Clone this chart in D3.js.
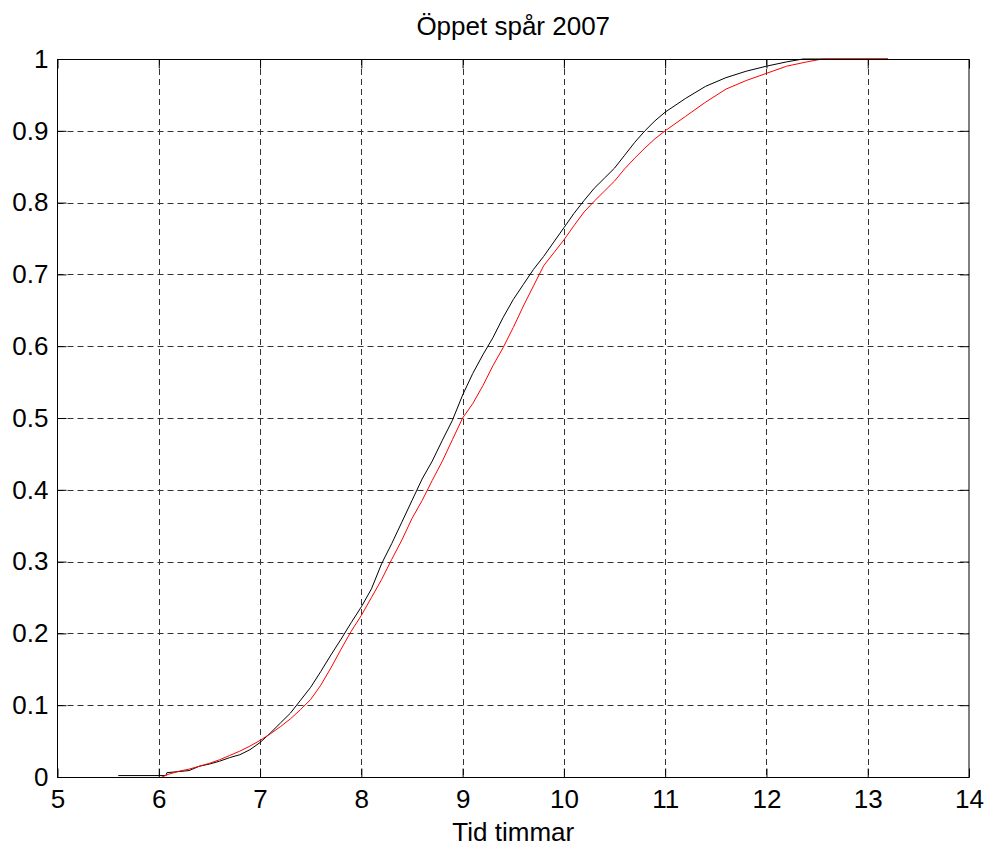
<!DOCTYPE html>
<html>
<head>
<meta charset="utf-8">
<script src="https://cdn.jsdelivr.net/npm/d3@7"></script>
<style>
body { margin: 0; background: #fff; }
text { font-family: Arial, "Liberation Sans", Helvetica, sans-serif; }
</style>
</head>
<body>
<svg id="chart" width="987" height="847"></svg>
<script>
// hours vs cumulative share
var blackTid = [5.6, 6.07, 6.08, 6.3, 6.4, 6.5, 6.6, 6.7, 6.8, 6.9, 7.0, 7.1, 7.2, 7.3, 7.4, 7.5, 7.6, 7.7, 7.8, 7.9,
	8.0, 8.1, 8.2, 8.3, 8.4, 8.5, 8.6, 8.7, 8.8, 8.9, 9.0, 9.1, 9.2, 9.3, 9.4, 9.5, 9.6, 9.7, 9.8, 9.9,
	10.0, 10.1, 10.2, 10.3, 10.4, 10.5, 10.6, 10.7, 10.8, 10.9, 11.0, 11.2, 11.4, 11.6, 11.8, 12.0, 12.2, 12.36, 13.2];
var blackAndel = [0.002, 0.002, 0.006, 0.009, 0.015, 0.018, 0.022, 0.027, 0.031, 0.038, 0.048, 0.061, 0.075, 0.089, 0.107, 0.125, 0.147, 0.170, 0.192, 0.215,
	0.237, 0.262, 0.297, 0.325, 0.355, 0.385, 0.415, 0.440, 0.469, 0.497, 0.532, 0.562, 0.588, 0.612, 0.640, 0.665, 0.686, 0.707, 0.725, 0.745,
	0.765, 0.785, 0.803, 0.820, 0.834, 0.848, 0.866, 0.884, 0.900, 0.914, 0.926, 0.945, 0.962, 0.974, 0.983, 0.990, 0.996, 1.0, 1.0];

var redTid = [6.03, 6.1, 6.2, 6.3, 6.4, 6.5, 6.6, 6.7, 6.8, 6.9, 7.0, 7.1, 7.2, 7.3, 7.4, 7.5, 7.6, 7.7, 7.8, 7.9,
	8.0, 8.1, 8.2, 8.3, 8.4, 8.5, 8.6, 8.7, 8.8, 8.9, 9.0, 9.1, 9.2, 9.3, 9.4, 9.5, 9.6, 9.7, 9.8, 9.9,
	10.0, 10.1, 10.2, 10.3, 10.4, 10.5, 10.6, 10.7, 10.8, 10.9, 11.0, 11.2, 11.4, 11.6, 11.8, 12.0, 12.2, 12.4, 12.55, 13.2];
var redAndel = [0.0, 0.004, 0.008, 0.011, 0.015, 0.019, 0.024, 0.030, 0.036, 0.043, 0.051, 0.060, 0.070, 0.081, 0.094, 0.108, 0.128, 0.152, 0.178, 0.203,
	0.225, 0.250, 0.275, 0.303, 0.330, 0.360, 0.385, 0.413, 0.440, 0.470, 0.500, 0.520, 0.545, 0.573, 0.598, 0.626, 0.656, 0.684, 0.712, 0.730,
	0.748, 0.768, 0.787, 0.802, 0.816, 0.830, 0.847, 0.862, 0.876, 0.889, 0.900, 0.920, 0.940, 0.958, 0.970, 0.980, 0.990, 0.996, 1.0, 1.0];

var xTicks = [5, 6, 7, 8, 9, 10, 11, 12, 13, 14];
var yTicks = [0, 0.1, 0.2, 0.3, 0.4, 0.5, 0.6, 0.7, 0.8, 0.9, 1];

var titel = "Öppet spår 2007";
var xEtikett = "Tid timmar";

var pLeft = 57.5, pRight = 969, pTop = 59, pBottom = 777;
var svg = d3.select("#chart");

var x = d3.scaleLinear().domain([5, 14]).range([pLeft, pRight]);
var y = d3.scaleLinear().domain([0, 1]).range([pBottom, pTop]);

// grid
svg.append("g").selectAll("line")
	.data(xTicks.slice(1, -1))
	.enter().append("line")
	.attr("x1", function(d){return Math.round(x(d)) + 0.5;})
	.attr("x2", function(d){return Math.round(x(d)) + 0.5;})
	.attr("y1", pTop).attr("y2", pBottom)
	.attr("stroke", "#333").attr("stroke-dasharray", "6,4");

svg.append("g").selectAll("line")
	.data(yTicks.slice(1, -1))
	.enter().append("line")
	.attr("y1", function(d){return Math.round(y(d)) + 0.5;})
	.attr("y2", function(d){return Math.round(y(d)) + 0.5;})
	.attr("x1", pLeft).attr("x2", pRight)
	.attr("stroke", "#333").attr("stroke-dasharray", "6,4");

// curves
function series(t, v){
	return t.map(function(d, i){return [d, v[i]];});
}
var line = d3.line()
	.x(function(d){return x(d[0]);})
	.y(function(d){return y(d[1]);});

svg.append("path")
	.attr("d", line(series(blackTid, blackAndel)))
	.attr("fill", "none").attr("stroke", "#000").attr("stroke-width", 1);
svg.append("path")
	.attr("d", line(series(redTid, redAndel)))
	.attr("fill", "none").attr("stroke", "#ff0000").attr("stroke-width", 1);

// axes, ticks inward on all four sides
var tl = 9;
svg.append("g")
	.attr("transform", "translate(0," + (pBottom + 0.5) + ")")
	.call(d3.axisBottom(x).tickValues(xTicks).tickSize(-tl).tickPadding(12).tickSizeOuter(0))
	.call(function(g){ g.select(".domain").remove(); });
svg.append("g")
	.attr("transform", "translate(0," + (pTop + 0.5) + ")")
	.call(d3.axisTop(x).tickValues(xTicks).tickSize(-tl).tickFormat("").tickSizeOuter(0))
	.call(function(g){ g.select(".domain").remove(); });
svg.append("g")
	.attr("transform", "translate(" + (pLeft) + ",0)")
	.call(d3.axisLeft(y).tickValues(yTicks).tickSize(-tl).tickPadding(9).tickFormat(d3.format("")).tickSizeOuter(0))
	.call(function(g){ g.select(".domain").remove(); });
svg.append("g")
	.attr("transform", "translate(" + (pRight) + ",0)")
	.call(d3.axisRight(y).tickValues(yTicks).tickSize(-tl).tickFormat("").tickSizeOuter(0))
	.call(function(g){ g.select(".domain").remove(); });

svg.selectAll(".tick line").attr("stroke", "#000");
svg.selectAll(".tick text")
	.attr("font-size", "26px")
	.attr("font-family", "Arial, 'Liberation Sans', sans-serif")
	.attr("fill", "#000");

svg.append("rect")
	.attr("x", pLeft).attr("y", pTop + 0.5)
	.attr("width", pRight - pLeft).attr("height", pBottom - pTop)
	.attr("fill", "none").attr("stroke", "#000").attr("stroke-width", 1);

svg.append("text")
	.attr("x", (pLeft + pRight) / 2).attr("y", 35)
	.attr("text-anchor", "middle")
	.attr("font-size", "26px")
	.text(titel);

svg.append("text")
	.attr("x", (pLeft + pRight) / 2).attr("y", 841)
	.attr("text-anchor", "middle")
	.attr("font-size", "26px")
	.text(xEtikett);
</script>
</body>
</html>
